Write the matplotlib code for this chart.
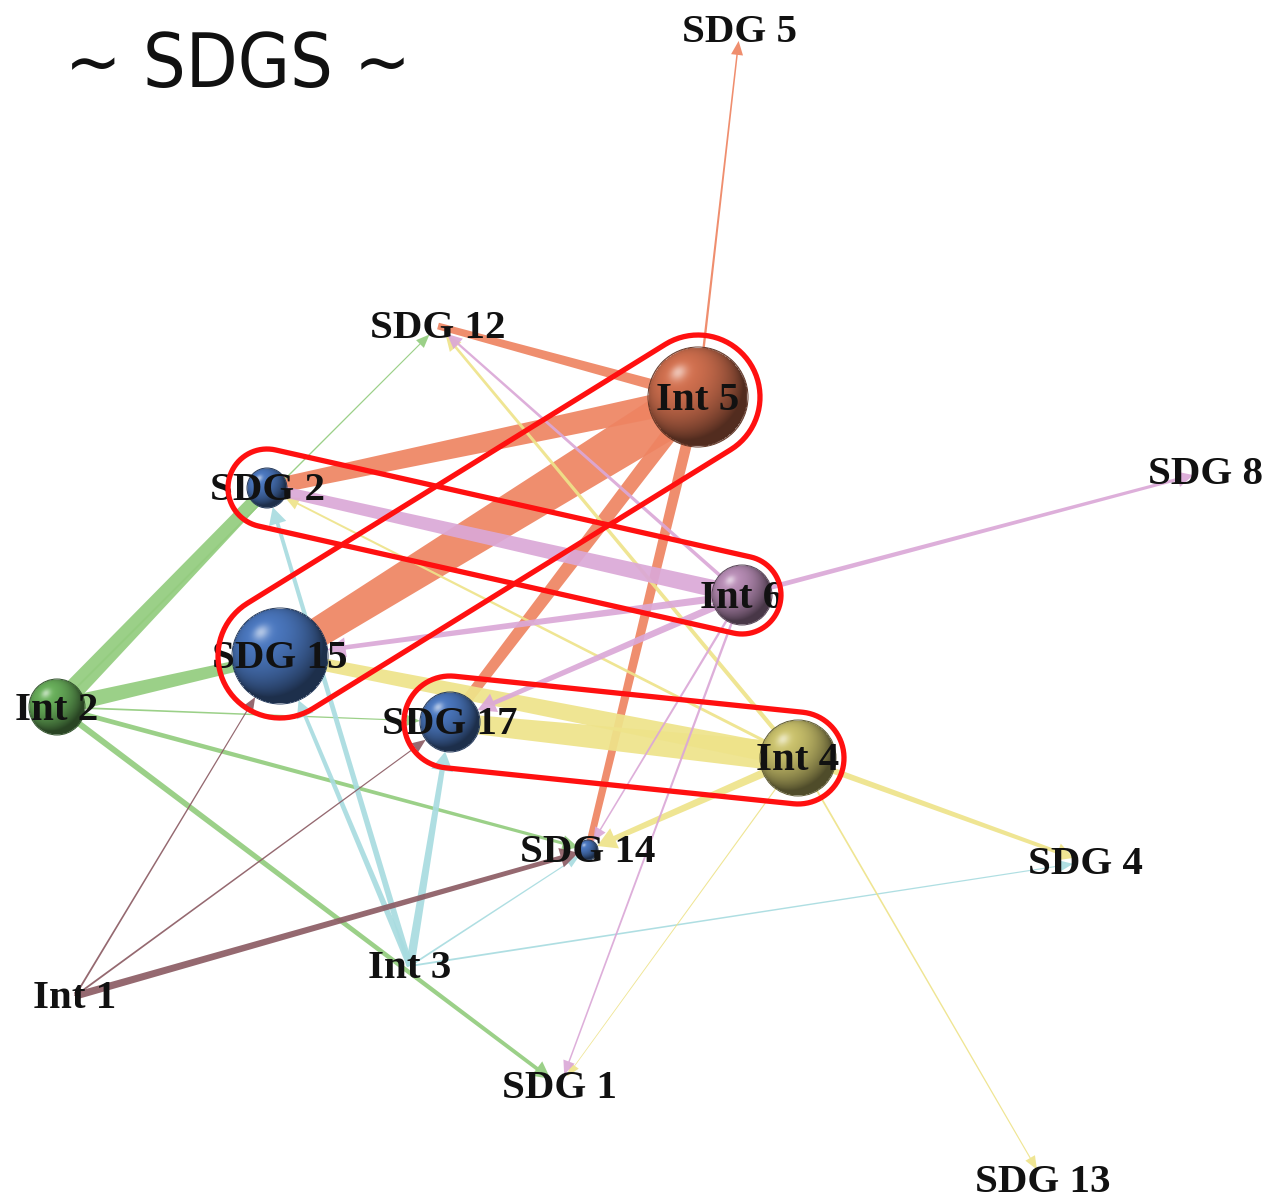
import numpy as np
import matplotlib
matplotlib.use('Agg')
import matplotlib.pyplot as plt
from matplotlib.patches import Polygon, Circle

# nodes: name, x, y (pixel layout), sphere radius (0 = label only)
node_names = ['Int 1', 'Int 2', 'Int 3', 'Int 4', 'Int 5', 'Int 6',
              'SDG 1', 'SDG 2', 'SDG 4', 'SDG 5', 'SDG 8', 'SDG 12',
              'SDG 13', 'SDG 14', 'SDG 15', 'SDG 17']
node_x = [75, 57, 410, 798, 698, 742, 560, 267, 1085, 740, 1205, 438, 1043, 588, 280, 450]
node_y = [996, 707, 966, 758, 397, 595, 1086, 488, 862, 29, 472, 326, 1180, 850, 656, 722]
node_r = [0, 28, 0, 38, 50, 30, 0, 20, 0, 0, 0, 0, 0, 10, 48, 30]

# edges (source -> target, width in px)
edge_src = ['Int 5', 'Int 5', 'Int 5', 'Int 5', 'Int 5', 'Int 5',
            'Int 2', 'Int 2', 'Int 2', 'Int 2', 'Int 2', 'Int 2',
            'Int 3', 'Int 3', 'Int 3', 'Int 3', 'Int 3',
            'Int 1', 'Int 1', 'Int 1',
            'Int 4', 'Int 4', 'Int 4', 'Int 4', 'Int 4', 'Int 4', 'Int 4', 'Int 4',
            'Int 6', 'Int 6', 'Int 6', 'Int 6', 'Int 6', 'Int 6', 'Int 6']
edge_dst = ['SDG 15', 'SDG 2', 'SDG 17', 'SDG 14', 'SDG 12', 'SDG 5',
            'SDG 2', 'SDG 15', 'SDG 14', 'SDG 1', 'SDG 17', 'SDG 12',
            'SDG 17', 'SDG 15', 'SDG 2', 'SDG 14', 'SDG 4',
            'SDG 14', 'SDG 15', 'SDG 17',
            'SDG 17', 'SDG 15', 'SDG 14', 'SDG 4', 'SDG 12', 'SDG 2', 'SDG 1', 'SDG 13',
            'SDG 2', 'SDG 15', 'SDG 17', 'SDG 12', 'SDG 8', 'SDG 14', 'SDG 1']
edge_w = [38, 20, 13, 9, 9, 2,
          17, 13, 4, 5, 1.5, 1.5,
          7, 5, 5, 1.5, 1.5,
          6, 1.5, 1.5,
          24, 16, 7, 5, 3.5, 2.5, 1, 1.5,
          14, 6, 6, 3, 4, 2, 2]

edge_colors = {'Int 1': '#8C5C64', 'Int 2': '#93CC7E', 'Int 3': '#A8DCE0',
               'Int 4': '#EEE38A', 'Int 5': '#EE8462', 'Int 6': '#DBA8D7'}
sphere_colors = {'Int 2': '#62A455', 'Int 4': '#BDB565', 'Int 5': '#C4694A',
                 'Int 6': '#AC84AA', 'SDG': '#4670B3'}

# highlighted pairs (red outlines)
hl_a = ['SDG 15', 'SDG 2', 'SDG 17']
hl_b = ['Int 5', 'Int 6', 'Int 4']
hl_pad = [62, 39, 46]

pos = {n: (x, y) for n, x, y in zip(node_names, node_x, node_y)}
rad = dict(zip(node_names, node_r))

fig = plt.figure(figsize=(12.71, 11.99), dpi=100)
ax = fig.add_axes([0, 0, 1, 1])


def edge_poly(p0, p1, w, r_t):
    p0 = np.array(p0, float)
    p1 = np.array(p1, float)
    u = (p1 - p0) / np.linalg.norm(p1 - p0)
    n = np.array([-u[1], u[0]])
    ws, wt = w * 1.25, w * 0.75
    if w < 8:
        e = p1 - u * (r_t if r_t > 0 else 12)
        hl, hw = 12 + w, 8 + 2 * w
        b = e - u * hl
        pts = [p0 + n * ws / 2, b + n * wt / 2, b + n * hw / 2, e,
               b - n * hw / 2, b - n * wt / 2, p0 - n * ws / 2]
    else:
        pts = [p0 + n * ws / 2, p1 + n * wt / 2, p1 - n * wt / 2, p0 - n * ws / 2]
    return np.array(pts)


for s, d, w in zip(edge_src, edge_dst, edge_w):
    pts = edge_poly(pos[s], pos[d], w, rad[d])
    ax.add_patch(Polygon(pts, closed=True, facecolor=edge_colors[s],
                         edgecolor='none', alpha=0.92, zorder=2))


def sphere(x, y, r, color, n=96):
    base = np.array(matplotlib.colors.to_rgb(color))
    g = np.linspace(-1, 1, n)
    u, v = np.meshgrid(g, g)
    r2 = u ** 2 + v ** 2
    z = np.sqrt(np.clip(1 - r2, 0, 1))
    L = np.array([-0.4, -0.5, 0.77])
    L = L / np.linalg.norm(L)
    diff = np.clip(u * L[0] + v * L[1] + z * L[2], 0, 1)
    spec = diff ** 60
    rgb = base[None, None, :] * (0.42 + 0.68 * diff[..., None])
    rgb = rgb + (1 - rgb) * (0.55 * spec[..., None])
    img = np.dstack([np.clip(rgb, 0, 1), (r2 <= 1).astype(float)])
    im = ax.imshow(img, extent=(x - r, x + r, y + r, y - r), origin='upper',
                   aspect='auto', interpolation='bilinear', zorder=3)
    clip = Circle((x, y), r, transform=ax.transData)
    im.set_clip_path(clip)
    ax.add_patch(Circle((x, y), r, facecolor='none',
                        edgecolor=base * 0.5, lw=0.7, zorder=3.1))


for name, x, y, r in zip(node_names, node_x, node_y, node_r):
    if r > 0:
        c = sphere_colors['SDG'] if name.startswith('SDG') else sphere_colors[name]
        sphere(x, y, r, c)

for name, x, y in zip(node_names, node_x, node_y):
    ax.text(x, y + 3, name, ha='center', va='center', fontsize=29.5,
            fontweight='bold', family=['Liberation Serif', 'DejaVu Serif'],
            color='#111111', zorder=4)


def stadium(a, b, h, k=40):
    a = np.array(a, float)
    b = np.array(b, float)
    t = np.arctan2(b[1] - a[1], b[0] - a[0])
    t1 = np.linspace(t - np.pi / 2, t + np.pi / 2, k)
    t2 = np.linspace(t + np.pi / 2, t + 3 * np.pi / 2, k)
    arc_b = b + h * np.c_[np.cos(t1), np.sin(t1)]
    arc_a = a + h * np.c_[np.cos(t2), np.sin(t2)]
    return np.vstack([arc_b, arc_a])


for a, b, h in zip(hl_a, hl_b, hl_pad):
    ax.add_patch(Polygon(stadium(pos[a], pos[b], h), closed=True, fill=False,
                         edgecolor='#FF1010', lw=3.8, zorder=5))

ax.text(238, 66, '~ SDGS ~', ha='center', va='center', fontsize=54,
        family='DejaVu Sans', fontstretch='condensed', color='#111111')

ax.set_xlim(0, 1271)
ax.set_ylim(1199, 0)
ax.axis('off')
fig.savefig('out.png', dpi=100)
